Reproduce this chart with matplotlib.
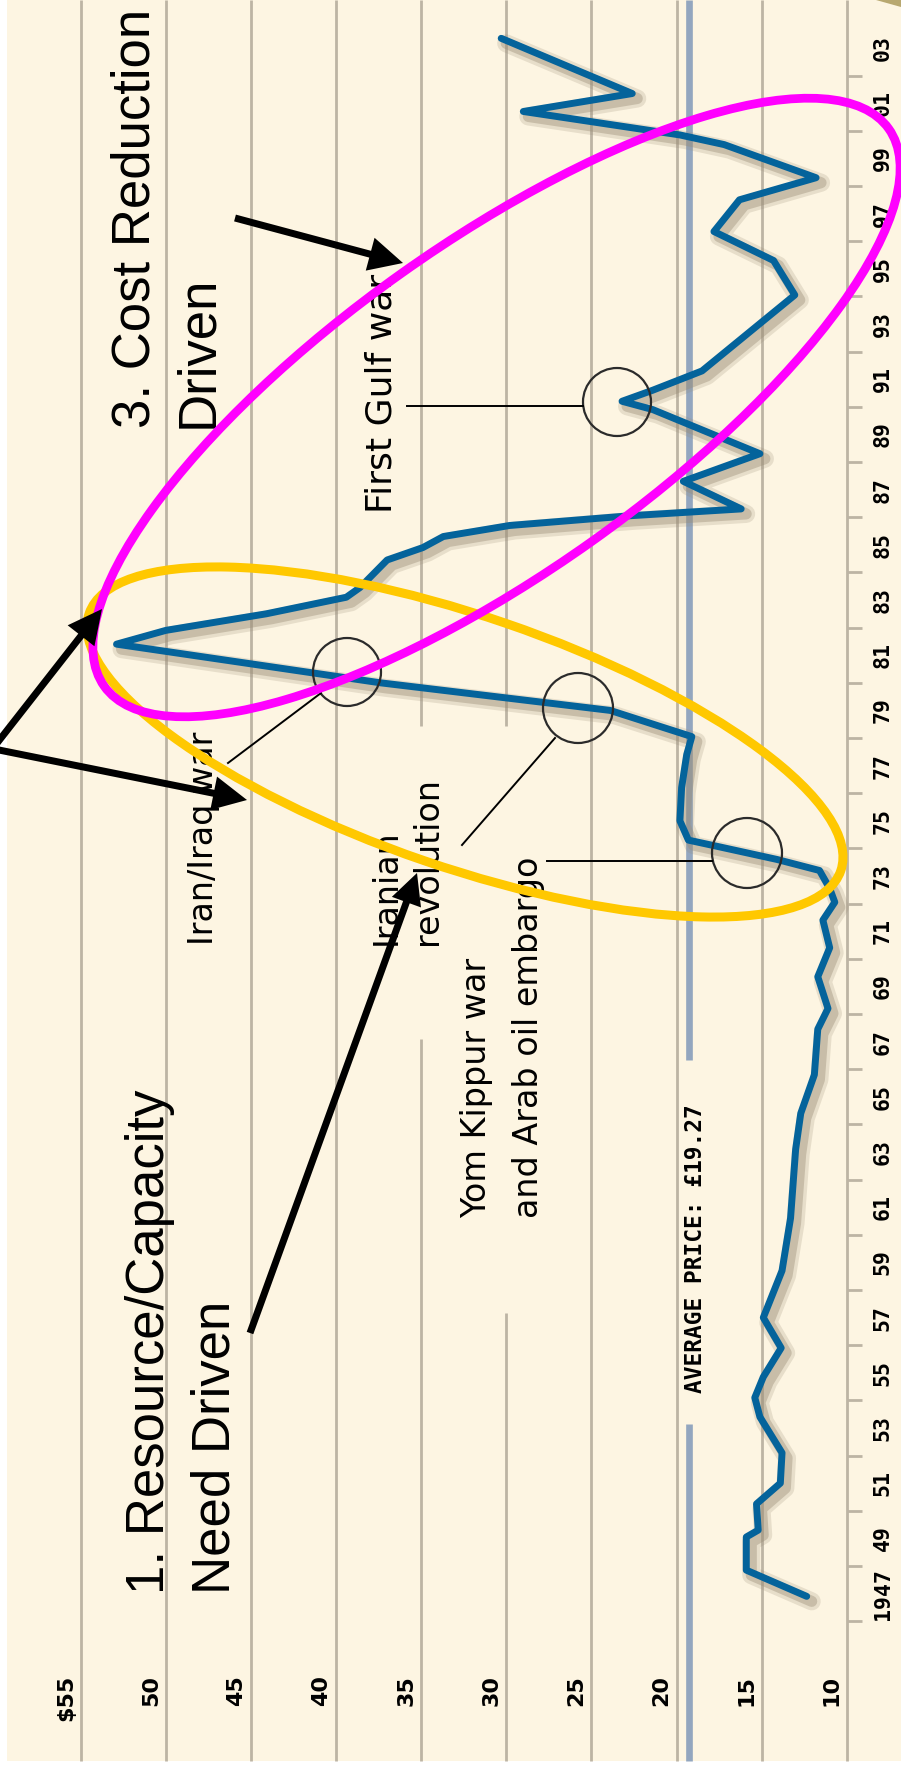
import matplotlib
matplotlib.use('Agg')
import matplotlib.pyplot as plt
import matplotlib.transforms as mtransforms
from matplotlib.patches import Ellipse, FancyArrow, Rectangle, Circle, Polygon

W, H, DPI = 901, 1769, 100

# ---------------- data ----------------
years = [1946.9, 1947.85, 1949.05, 1949.3, 1950.25, 1951.0, 1952.1, 1953.4, 1954.1,
         1954.85, 1955.9, 1957.0, 1958.7, 1960.6, 1963.1, 1964.4, 1965.8, 1967.45,
         1968.2, 1969.35, 1970.4, 1971.4, 1972.05, 1972.55, 1973.2, 1973.6, 1974.1,
         1974.3, 1975.0, 1976.2, 1977.4, 1978.05, 1979.0, 1980.0, 1981.4, 1981.9,
         1982.5, 1983.1, 1983.45, 1983.95, 1984.45, 1984.9, 1985.3, 1985.7, 1986.05,
         1986.3, 1987.3, 1988.3, 1989.9, 1990.2, 1990.6, 1991.3, 1994.05, 1995.3,
         1996.35, 1997.5, 1998.3, 1999.5, 1999.85, 2000.7, 2001.35, 2003.35]
prices = [12.35, 15.9, 15.9, 15.2, 15.3, 13.9, 13.8, 15.1, 15.4,
          14.9, 13.85, 14.9, 13.8, 13.3, 13.0, 12.7, 11.9, 11.7,
          11.1, 11.7, 11.0, 11.4, 10.7, 11.0, 11.6, 14.1, 17.8,
          19.3, 19.8, 19.7, 19.4, 19.1, 23.9, 37.4, 52.9, 50.0,
          44.1, 39.4, 38.6, 37.8, 37.0, 34.9, 33.7, 29.8, 22.8,
          16.2, 19.6, 15.1, 21.4, 23.2, 21.4, 18.5, 13.05, 14.3,
          17.8, 16.3, 11.8, 17.2, 19.8, 29.0, 22.6, 30.3]

price_ticks = [55, 50, 45, 40, 35, 30, 25, 20, 15, 10]
price_labels = ['$55', '50', '45', '40', '35', '30', '25', '20', '15', '10']
label_years = list(range(1947, 2004, 2))
year_labels = ['1947'] + ['%02d' % (y % 100) for y in label_years[1:]]
tick_years = list(range(1946, 2003, 2))
avg_price = 19.27
avg_label = 'AVERAGE PRICE: £19.27'

# ---------------- style ----------------
CREAM = '#FDF5E2'
GRID = '#BDB4A4'
AVG = '#93A6BF'
LINE = '#04639B'
SHADOW = '#9A8D76'

fig = plt.figure(figsize=(W / DPI, H / DPI), dpi=DPI)
fig.patch.set_facecolor('white')
ax = fig.add_axes([0, 0, 1, 1])
ax.set_xlim(59.747, 6.810)     # price axis, runs right -> left
ax.set_ylim(1940.645, 2004.739)  # year axis, runs bottom -> top
ax.axis('off')

# pixel coordinates (y down) for annotations
P = mtransforms.Affine2D().scale(1 / W, -1 / H).translate(0, 1) + fig.transFigure
XB = mtransforms.blended_transform_factory(ax.transData, P)   # x=price, y=pixel
YB = mtransforms.blended_transform_factory(P, ax.transData)   # x=pixel, y=year

ax.add_patch(Rectangle((7, 0), W - 7, 1761, transform=P, facecolor=CREAM,
                       edgecolor='none', zorder=0))
ax.add_patch(Polygon([(876, 0), (901, 0), (901, 7)], closed=True, transform=P,
                     facecolor='#B8A870', edgecolor='none', zorder=0.5))

# gridlines (with gaps where annotation text sits)
grid_gaps = {35: [(0, 726), (1039, 1761)], 30: [(0, 726), (1313, 1761)]}
for p in price_ticks:
    for y0, y1 in grid_gaps.get(p, [(0, 1761)]):
        ax.plot([p, p], [y0, y1], transform=XB, color=GRID, lw=2.0,
                solid_capstyle='butt', zorder=1)

# average price line
for y0, y1 in [(0, 1060), (1424, 1761)]:
    ax.plot([avg_price, avg_price], [y0, y1], transform=XB, color=AVG, lw=4.8,
            solid_capstyle='butt', zorder=1.5)
ax.text(avg_price, 1393, avg_label,
        transform=mtransforms.offset_copy(XB, fig=fig, x=13, y=0, units='dots'),
        rotation=90, rotation_mode='anchor', ha='left', va='baseline',
        fontfamily='DejaVu Sans Mono', fontweight='bold', fontsize=16.5,
        color='black', zorder=2)

# year ticks and labels
for yr in tick_years:
    ax.plot([847, 862], [yr, yr], transform=YB, color=GRID, lw=2.0,
            solid_capstyle='butt', zorder=1)
for yr, lab in zip(label_years, year_labels):
    ax.text(889, yr, lab, transform=YB, rotation=90, rotation_mode='anchor',
            ha='center', va='baseline', fontfamily='DejaVu Sans Mono',
            fontweight='bold', fontsize=15.5, color='black', zorder=2)

# price labels
for p, lab in zip(price_ticks, price_labels):
    ax.text(p, 1675, lab,
            transform=mtransforms.offset_copy(XB, fig=fig, x=-9, y=0, units='dots'),
            rotation=90, rotation_mode='anchor', ha='right', va='baseline',
            fontfamily='DejaVu Sans', fontweight='bold', fontsize=16,
            color='black', zorder=2)

# price line with soft shadow
sh = ax.transData + mtransforms.ScaledTranslation(5 / DPI, -5 / DPI, fig.dpi_scale_trans)
ax.plot(prices, years, transform=sh, color=SHADOW, lw=13, alpha=0.22,
        solid_joinstyle='round', solid_capstyle='round', zorder=3)
ax.plot(prices, years, transform=sh, color=SHADOW, lw=8, alpha=0.4,
        solid_joinstyle='round', solid_capstyle='round', zorder=3.1)
ax.plot(prices, years, color=LINE, lw=5, solid_joinstyle='round',
        solid_capstyle='round', zorder=4)

# small event annotations
small = dict(transform=P, rotation=90, rotation_mode='anchor', ha='left',
             va='baseline', fontfamily='DejaVu Sans', color='black', zorder=5)
ax.text(391, 513, 'First Gulf war', fontsize=26, **small)
ax.text(213, 945, 'Iran/Iraq war', fontsize=24, **small)
ax.text(396, 945, 'Iranian', fontsize=24, **small)
ax.text(437, 945, 'revolution', fontsize=24, **small)
ax.text(486, 1218, 'Yom Kippur war', fontsize=24, **small)
ax.text(538, 1218, 'and Arab oil embargo', fontsize=24, **small)

for (cx, cy, r) in [(617, 402, 34), (347, 672, 34), (578, 708, 35), (747, 853, 35)]:
    ax.add_patch(Circle((cx, cy), r, transform=P, fill=False, ec='#2b2b2b',
                        lw=1.6, zorder=6))
for (x0, y0, x1, y1) in [(407, 406, 583, 406), (547, 861, 712, 861),
                         (462, 845, 555, 738), (228, 763, 321, 693)]:
    ax.plot([x0, x1], [y0, y1], transform=P, color='black', lw=1.4, zorder=6)

# big headings
big = dict(transform=P, rotation=90, rotation_mode='anchor', ha='left',
           va='baseline', fontfamily='Liberation Sans', fontsize=38,
           color='black', zorder=7)
ax.text(149, 428, '3. Cost Reduction', **big)
ax.text(212, 428, 'Driven', **big)
ax.text(164, 1594, '1. Resource/Capacity', **big)
ax.text(229, 1594, 'Need Driven', **big)

# highlight ellipses
ax.add_patch(Ellipse((465, 742), 794.4, 251.0, angle=18.9, transform=P,
                     fill=False, ec='#FFC800', lw=6.5, zorder=8))
ax.add_patch(Ellipse((496.5, 407.5), 962.4, 328.8, angle=-35.4, transform=P,
                     fill=False, ec='#FF00FF', lw=6.3, zorder=9))

# arrows
for (x0, y0, x1, y1, hw) in [(235, 218, 403, 263, 34), (-6, 747, 102, 609, 34),
                             (-6, 749, 247, 800, 34), (250, 1333, 417, 873, 31)]:
    ax.add_patch(FancyArrow(x0, y0, x1 - x0, y1 - y0, width=7, head_width=hw,
                            head_length=hw, length_includes_head=True,
                            transform=P, color='black', lw=0, zorder=10))

fig.savefig('out.png', dpi=DPI, facecolor='white')
